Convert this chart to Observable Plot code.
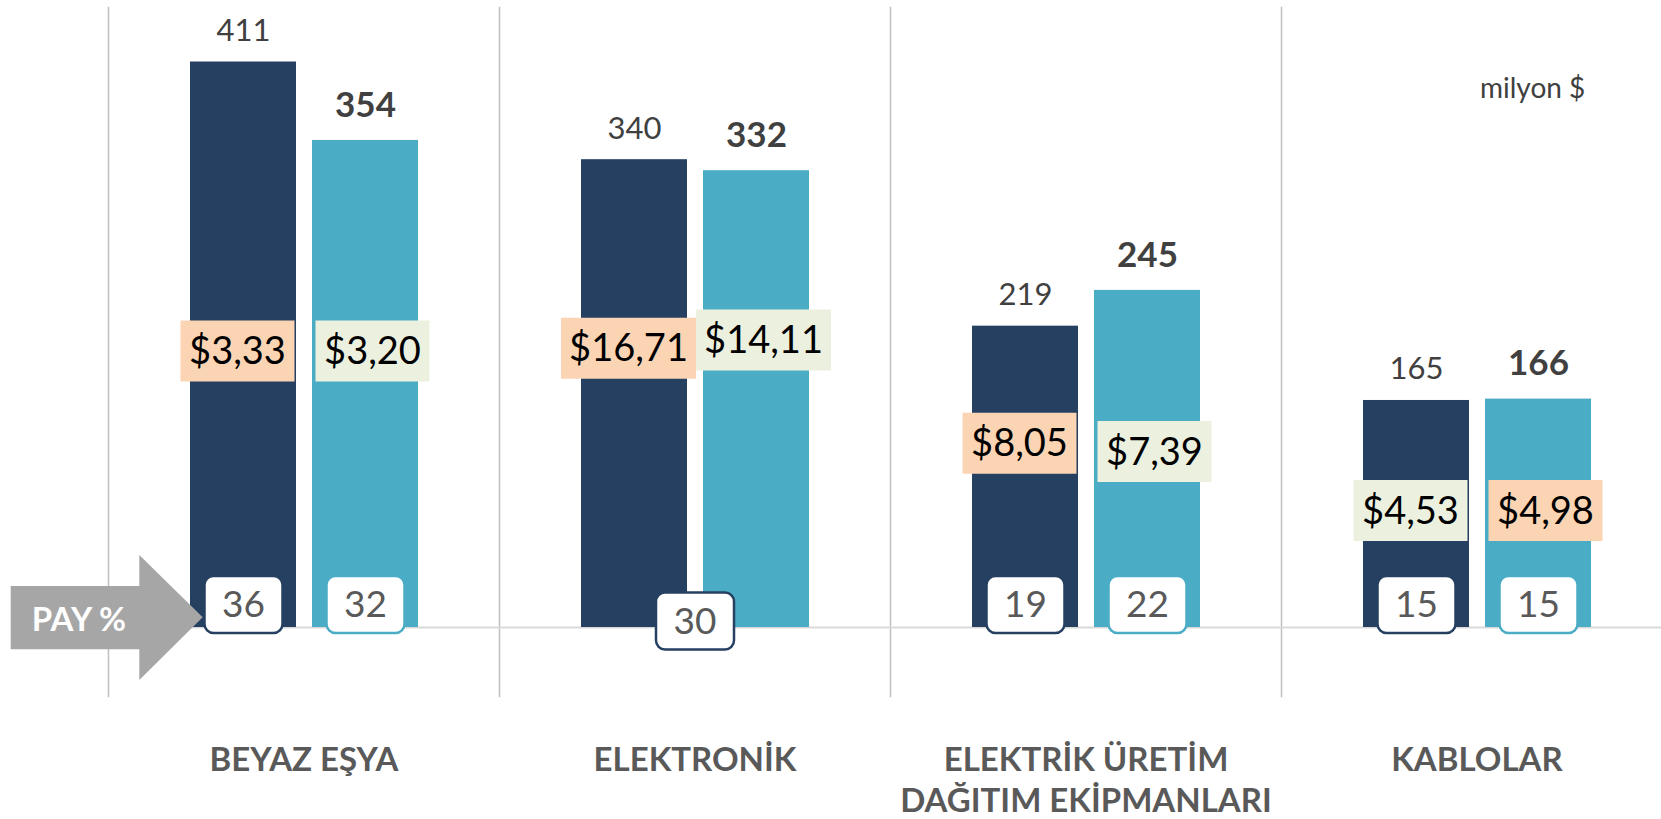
<!DOCTYPE html>
<html><head><meta charset="utf-8">
<script src="https://cdn.jsdelivr.net/npm/d3@7"></script>
<script src="https://cdn.jsdelivr.net/npm/@observablehq/plot@0.6"></script>
<style>
html,body{margin:0;padding:0;background:#fff;overflow:hidden;}
#wrap{position:relative;width:1661px;height:819px;overflow:hidden;font-family:Lato,"Open Sans",sans-serif;}
#wrap svg{max-width:none !important;}
</style></head><body><div id="wrap"></div>
<script>
// ---- data ----
const categories = ["BEYAZ EŞYA", "ELEKTRONİK", "ELEKTRİK ÜRETİM\nDAĞITIM EKİPMANLARI", "KABLOLAR"];
const series = ["Önceki dönem", "Son dönem"];
const valuesPrev = [411, 340, 219, 165];          // milyon $
const valuesLast = [354, 332, 245, 166];          // milyon $
const pricePrev = [3.33, 16.71, 8.05, 4.53];      // $
const priceLast = [3.20, 14.11, 7.39, 4.98];      // $
const payPrev = [36, null, 19, 15];               // PAY %
const payLast = [32, null, 22, 15];               // PAY %
const payCombined = [null, 30, null, null];       // PAY % (one label for the group)
// where the price labels sit, in the chart's own units (milyon $)
const priceAnchorPrev = [201, 203, 134, 85];
const priceAnchorLast = [201, 209, 128, 85];

// ---- style ----
const seriesColor = {[series[0]]: "#264061", [series[1]]: "#4BACC6"};
const priceHigh = "#FBD4B4", priceLow = "#EBF1DE";
const font = "Lato, 'Open Sans', sans-serif";

const rows = categories.flatMap((c, i) => [
  {cat: c, s: series[0], value: valuesPrev[i], price: pricePrev[i], other: priceLast[i], pay: payPrev[i], anchor: priceAnchorPrev[i]},
  {cat: c, s: series[1], value: valuesLast[i], price: priceLast[i], other: pricePrev[i], pay: payLast[i], anchor: priceAnchorLast[i]}
]);
const fmtPrice = v => "$" + v.toFixed(2).replace(".", ",");
rows.forEach(d => d.label = fmtPrice(d.price));
const combinedRows = categories.map((c, i) => ({cat: c, pay: payCombined[i]})).filter(d => d.pay != null);
const payRows = rows.filter(d => d.pay != null);

function boxSymbol(w, h, r) {
  return {draw(ctx) {
    const x0 = -w / 2, y0 = -h / 2, x1 = w / 2, y1 = h / 2;
    if (!r) { ctx.moveTo(x0, y0); ctx.lineTo(x1, y0); ctx.lineTo(x1, y1); ctx.lineTo(x0, y1); ctx.closePath(); return; }
    ctx.moveTo(x0 + r, y0); ctx.lineTo(x1 - r, y0); ctx.arcTo(x1, y0, x1, y0 + r, r);
    ctx.lineTo(x1, y1 - r); ctx.arcTo(x1, y1, x1 - r, y1, r);
    ctx.lineTo(x0 + r, y1); ctx.arcTo(x0, y1, x0, y1 - r, r);
    ctx.lineTo(x0, y0 + r); ctx.arcTo(x0, y0, x0 + r, y0, r); ctx.closePath();
  }};
}

// price label boxes, one mark per series and label length
const priceMarks = [];
series.forEach((s, si) => {
  const dx = si === 0 ? -6 : 7;
  const subset = rows.filter(d => d.s === s);
  d3.groups(subset, d => d.label.length).forEach(([len, arr]) => {
    priceMarks.push(Plot.dot(arr, {fx: "cat", x: "s", y: "anchor", dx, symbol: boxSymbol(21 * len + 9, 61, 0),
      fill: d => d.price > d.other ? priceHigh : priceLow, stroke: "none"}));
  });
  priceMarks.push(Plot.text(subset, {fx: "cat", x: "s", y: "anchor", dx, dy: 1, text: "label", fontSize: 38, fill: "#000"}));
});

const payBox = boxSymbol(78, 57, 9);

const chart = Plot.plot({
  width: 1673, height: 819,
  marginLeft: 107, marginRight: 0, marginTop: 0, marginBottom: 192,
  style: {fontFamily: font, background: "transparent"},
  fx: {domain: categories, paddingInner: 0, paddingOuter: 0},
  x: {domain: series, paddingInner: 0.135, paddingOuter: 0.658, axis: null},
  y: {domain: [0, 455.7], axis: null},
  color: {type: "identity"},
  marks: [
    Plot.frame({anchor: "left", stroke: "#BFBFBF", strokeWidth: 1.5, insetTop: 7, insetBottom: -69}),
    Plot.ruleY([0], {stroke: "#D9D9D9", strokeWidth: 2}),
    Plot.barY(rows, {fx: "cat", x: "s", y: "value", fill: d => seriesColor[d.s], ariaLabel: "bars"}),
    Plot.text(rows.filter(d => d.s === series[0]), {fx: "cat", x: "s", y: "value", text: d => String(d.value), dy: -31, fontSize: 31, fill: "#404040"}),
    Plot.text(rows.filter(d => d.s === series[1]), {fx: "cat", x: "s", y: "value", text: d => String(d.value), dy: -35, fontSize: 35, fontWeight: "bold", fill: "#404040"}),
    ...priceMarks,
    Plot.dot(payRows, {fx: "cat", x: "s", y: () => 0, dy: -23, symbol: payBox, fill: "white", stroke: d => seriesColor[d.s], strokeWidth: 2.5, ariaLabel: "pay-box"}),
    Plot.text(payRows, {fx: "cat", x: "s", y: () => 0, dy: -22, text: d => String(d.pay), fontSize: 37, fill: "#595959"}),
    Plot.dot(combinedRows, {fx: "cat", y: () => 0, dy: -6.5, symbol: payBox, fill: "white", stroke: seriesColor[series[0]], strokeWidth: 2.5, ariaLabel: "pay-box"}),
    Plot.text(combinedRows, {fx: "cat", y: () => 0, dy: -5.5, text: d => String(d.pay), fontSize: 37, fill: "#595959"}),
    Plot.axisFx({anchor: "bottom", tickSize: 0, tickPadding: 114, label: null, fontSize: 33, fontWeight: "bold", lineHeight: 1.25, fill: "#595959"})
  ]
});

const wrap = document.getElementById("wrap");
wrap.appendChild(chart);
chart.querySelectorAll('g[aria-label="bars"]').forEach(g => g.style.filter = "drop-shadow(5px 3px 3px rgba(0,0,0,0.35))");
chart.querySelectorAll('g[aria-label="pay-box"]').forEach(g => g.style.filter = "drop-shadow(2px 6px 4px rgba(0,0,0,0.4))");

// annotations: PAY % arrow and unit note
const ns = "http://www.w3.org/2000/svg";
const ann = document.createElementNS(ns, "svg");
ann.setAttribute("width", 1661); ann.setAttribute("height", 819);
ann.style.cssText = "position:absolute;left:0;top:0;pointer-events:none";
ann.innerHTML = `
<polygon points="10.7,586 139.3,586 139.3,555 202.7,617.3 139.3,680 139.3,649.3 10.7,649.3" fill="#A6A6A6"/>
<text x="79" y="630.7" text-anchor="middle" font-family="${font}" font-weight="bold" font-size="33" fill="#fff">PAY %</text>
<text x="1480" y="98" font-family="${font}" font-size="28" fill="#404040">milyon $</text>`;
wrap.appendChild(ann);
</script>
</body></html>
